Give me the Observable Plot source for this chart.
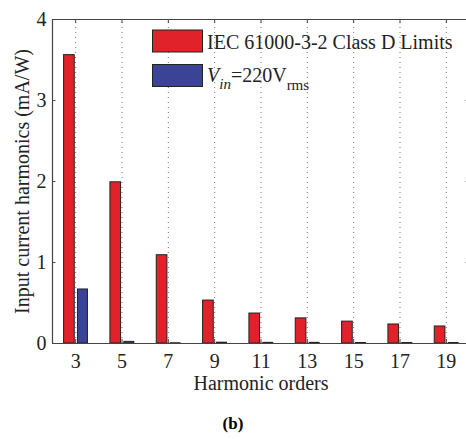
<!DOCTYPE html>
<html><head><meta charset="utf-8">
<script src="https://cdn.jsdelivr.net/npm/d3@7"></script>
<script src="https://cdn.jsdelivr.net/npm/@observablehq/plot@0.6"></script>
<style>
body{margin:0;background:#fff;}
#cap{width:466px;text-align:center;font-weight:bold;font-size:17px;font-family:'Liberation Serif','DejaVu Serif',serif;margin-top:10px;}
</style></head>
<body><div id="chart"></div><div id="cap">(b)</div>
<script>
const harmonics = [3, 5, 7, 9, 11, 13, 15, 17, 19];
const iecLimits = [3.56, 1.99, 1.09, 0.53, 0.37, 0.31, 0.27, 0.235, 0.21];
const measured = [0.667, 0.02, 0.003, 0.01, 0.008, 0.008, 0.006, 0.006, 0.006];
const yTicks = [0, 1, 2, 3, 4];
const seriesNames = ["IEC 61000-3-2 Class D Limits", "Vin=220Vrms"];
const colors = ["#e2222a", "#3b4396"];

const data = harmonics.flatMap((h, i) => [
  {h, v: iecLimits[i], s: 0},
  {h, v: measured[i], s: 1}
]);
const font = "'Liberation Serif', 'DejaVu Serif', serif";
const axisColor = "#444";
const plot = Plot.plot({
  width: 466, height: 404,
  marginTop: 19, marginBottom: 61, marginLeft: 52, marginRight: 0,
  style: {fontFamily: font, background: "white"},
  x: {domain: [2, 20], range: [52, 469]},
  y: {domain: [0, 4], range: [343, 19]},
  marks: [
    Plot.ruleX(harmonics, {y1: 0, y2: 4, stroke: "#777", strokeDasharray: "1,4", strokeWidth: 1}),
    Plot.rect(data, {
      x1: d => d.s === 0 ? d.h - 0.50 : d.h + 0.10,
      x2: d => d.s === 0 ? d.h - 0.04 : d.h + 0.53,
      y1: 0, y2: "v",
      fill: d => colors[d.s], stroke: "#222", strokeWidth: 1
    }),
    Plot.ruleY([0, 4], {x1: 2, x2: 20, stroke: axisColor, strokeWidth: 1.2}),
    Plot.ruleX([2, 20], {y1: 0, y2: 4, stroke: axisColor, strokeWidth: 1.2}),
    Plot.ruleY(yTicks, {x1: 2, x2: 2.15, stroke: axisColor}),
    Plot.ruleY(yTicks, {x1: 19.85, x2: 20, stroke: axisColor}),
    Plot.ruleX(harmonics, {y1: 0, y2: 0.05, stroke: axisColor}),
    Plot.ruleX(harmonics, {y1: 3.95, y2: 4, stroke: axisColor}),
    Plot.axisY(yTicks, {tickSize: 0, tickPadding: 6, fontSize: 20, label: null, fill: "#222", tickFormat: "d"}),
    Plot.axisX(harmonics, {tickSize: 0, tickPadding: 10, fontSize: 20, label: null, fill: "#222", tickFormat: "d"}),
    Plot.text(["Input current harmonics (mA/W)"], {frameAnchor: "left", textAnchor: "middle", dx: -30, rotate: -90, fontSize: 20, fill: "#222"}),
    Plot.text(["Harmonic orders"], {x: 11, y: 0, dy: 40, fontSize: 20, fill: "#222"})
  ]
});
document.getElementById("chart").appendChild(plot);
plot.style.fontFamily = font;
d3.select(plot).selectAll("text").style("font-family", font);

// legend
const svg = d3.select(plot);
const g = svg.append("g").style("font-family", font).attr("fill", "#222").attr("font-size", 20).attr("text-anchor", "start");
g.append("rect").attr("x", 152.5).attr("y", 30).attr("width", 50).attr("height", 22)
  .attr("fill", colors[0]).attr("stroke", "#222");
g.append("rect").attr("x", 152.5).attr("y", 64.5).attr("width", 50).attr("height", 22)
  .attr("fill", colors[1]).attr("stroke", "#222");
g.append("text").attr("x", 207).attr("y", 49).text(seriesNames[0]);
const t = g.append("text").attr("x", 207).attr("y", 82);
t.append("tspan").attr("font-style", "italic").text("V");
t.append("tspan").attr("font-style", "italic").attr("font-size", 15).attr("dy", 7).text("in");
t.append("tspan").attr("dy", -7).text("=220V");
t.append("tspan").attr("font-size", 15).attr("dy", 8).text("rms");
</script></body></html>
